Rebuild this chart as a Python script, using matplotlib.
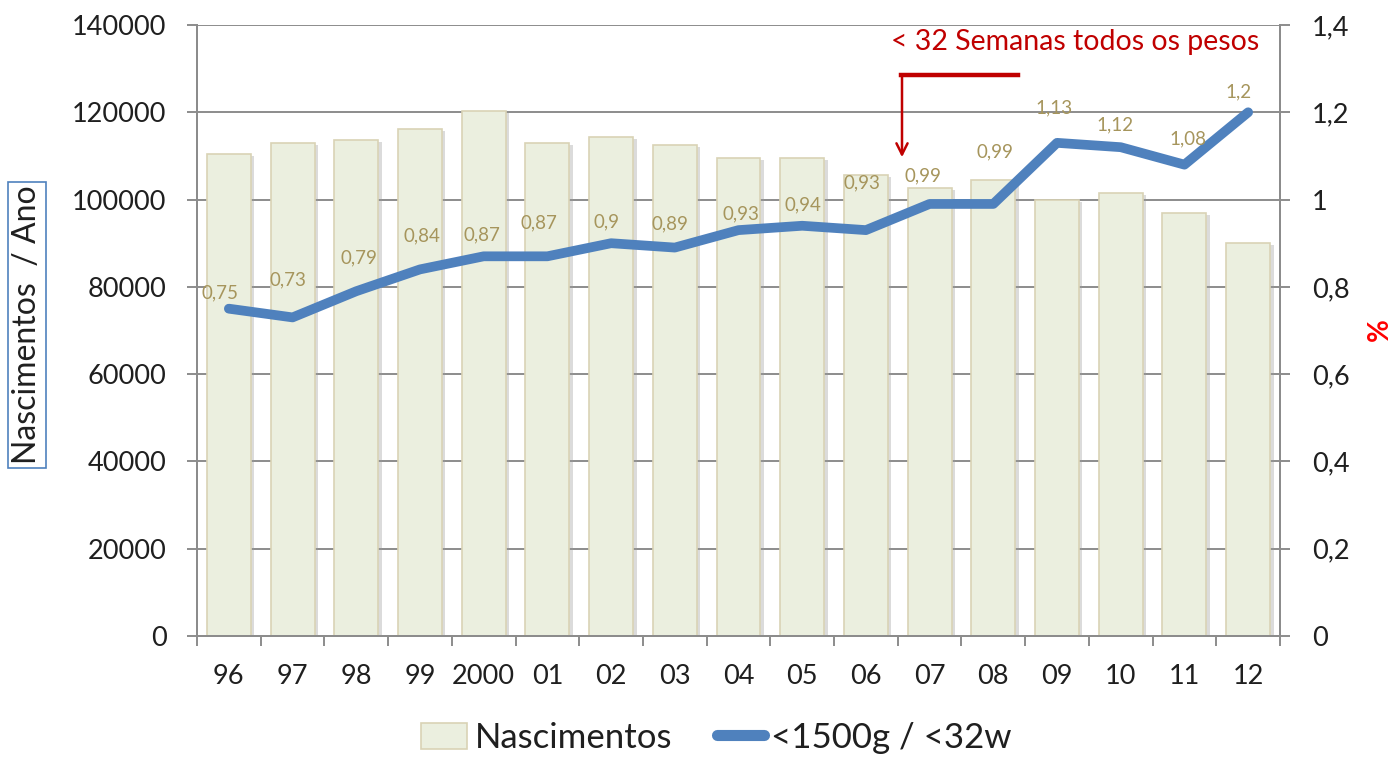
import matplotlib
matplotlib.use("Agg")
import matplotlib.pyplot as plt
import matplotlib.patheffects as pe
from matplotlib.patches import Patch
from matplotlib.lines import Line2D
import numpy as np

plt.rcParams['font.family'] = ['Lato', 'DejaVu Sans']

years = ["96", "97", "98", "99", "2000", "01", "02", "03", "04", "05", "06",
         "07", "08", "09", "10", "11", "12"]
nascimentos = [110500, 113000, 113700, 116200, 120200, 113000, 114300, 112500,
               109500, 109500, 105600, 102700, 104500, 99900, 101500, 96900, 90000]
pct_vlbw = [0.75, 0.73, 0.79, 0.84, 0.87, 0.87, 0.90, 0.89, 0.93, 0.94, 0.93,
            0.99, 0.99, 1.13, 1.12, 1.08, 1.20]
left_ticks = [0, 20000, 40000, 60000, 80000, 100000, 120000, 140000]
right_ticks = [0, 0.2, 0.4, 0.6, 0.8, 1.0, 1.2, 1.4]
right_tick_labels = ["0", "0,2", "0,4", "0,6", "0,8", "1", "1,2", "1,4"]
# label offsets in pixels (dx, dy) relative to each point
label_offsets = [(-9, 16), (-5, 38), (3, 33), (2, 34), (-2, 21), (-8, 33), (-5, 21),
                 (-5, 24), (2, 16), (1, 21), (-4, 47), (-7, 28), (2, 52), (-3, 35),
                 (-6, 22), (3, 26), (-10, 20)]

W, H = 1393, 757
fig = plt.figure(figsize=(W / 100, H / 100), dpi=100)
L, R, B, T = 197, 1280, 636, 25
ax = fig.add_axes([L / W, 1 - B / H, (R - L) / W, (B - T) / H])
ax2 = ax.twinx()

x = np.arange(len(years))
grid_c = '#8C8C8C'
txt_c = '#1F1F1F'
tick_fs = 19.5

bars = ax.bar(x, nascimentos, width=0.69, color='#EBEFDF', edgecolor='#D9D3B5',
              linewidth=1.2, zorder=2)
for b in bars:
    b.set_path_effects([pe.SimplePatchShadow(offset=(2.5, -1.5), shadow_rgbFace='#9A9A9A', alpha=0.35),
                        pe.Normal()])

ax.set_ylim(0, 140000)
ax.set_xlim(-0.5, len(years) - 0.5)
ax.set_yticks(left_ticks)
ax.set_yticklabels([str(t) for t in left_ticks])
ax.yaxis.grid(True, color=grid_c, linewidth=1.4, zorder=0)
ax.set_axisbelow(True)
ax.tick_params(axis='y', length=7, width=1.4, color=grid_c, pad=15, labelsize=tick_fs, labelcolor=txt_c)

ax.set_xticks(x)
ax.set_xticklabels(years)
ax.set_xticks(np.arange(-0.5, len(years), 1.0), minor=True)
ax.tick_params(axis='x', which='major', length=0, pad=20, labelsize=tick_fs, labelcolor=txt_c)
ax.tick_params(axis='x', which='minor', length=7, width=1.4, color=grid_c)

for sp in ['top']:
    ax.spines[sp].set_visible(False)
    ax2.spines[sp].set_visible(False)
for a in (ax, ax2):
    for sp in ['left', 'right', 'bottom']:
        a.spines[sp].set_color(grid_c)
        a.spines[sp].set_linewidth(1.4)

ax2.plot(x, pct_vlbw, color='#4F81BD', linewidth=7, solid_capstyle='round',
         solid_joinstyle='round', zorder=3)
ax2.set_ylim(0, 1.4)
ax2.set_yticks(right_ticks)
ax2.set_yticklabels(right_tick_labels)
ax2.tick_params(axis='y', length=7, width=1.4, color=grid_c, pad=16, labelsize=tick_fs, labelcolor=txt_c)

for xi, v, (dx, dy) in zip(x, pct_vlbw, label_offsets):
    ax2.annotate(f"{v:g}".replace('.', ','), (xi, v), xytext=(dx, dy),
                 textcoords='offset pixels', ha='center', va='center',
                 fontsize=13.5, color='#A6955C', zorder=4)

# y-axis label with box
fig.text(27 / W, 1 - 325 / H, "Nascimentos  / Ano", rotation=90, ha='center', va='center',
         fontsize=23, color=txt_c,
         bbox=dict(boxstyle='square,pad=0.12', facecolor='white', edgecolor='#4F81BD', linewidth=1.2))
# right label
fig.text(1380 / W, 1 - 330 / H, "%", rotation=90, ha='center', va='center',
         fontsize=20, color='#FF0000', fontweight='bold')

# annotation
red = '#C00000'
fig.text(1075 / W, 1 - 42 / H, "< 32 Semanas todos os pesos", ha='center', va='center',
         fontsize=20.5, color=red)
fig.add_artist(Line2D([901 / W, 1018 / W], [1 - 75 / H, 1 - 75 / H], color=red, linewidth=3.2,
                      transform=fig.transFigure))
ax.annotate("", xy=(902 / W, 1 - 160 / H), xytext=(902 / W, 1 - 74 / H),
            xycoords='figure fraction', textcoords='figure fraction',
            arrowprops=dict(arrowstyle='->,head_length=0.8,head_width=0.4', color=red, linewidth=1.8),
            zorder=5)

handles = [Patch(facecolor='#EBEFDF', edgecolor='#D9D3B5', linewidth=1.2),
           Line2D([0], [0], color='#4F81BD', linewidth=8, solid_capstyle='round')]
fig.legend(handles, ["Nascimentos", "<1500g / <32w"], loc='center', bbox_to_anchor=(716 / W, 1 - 738 / H),
           ncol=2, frameon=False, fontsize=25, handlelength=1.35, handleheight=0.8,
           handletextpad=0.2, columnspacing=1.3, labelcolor=txt_c)

fig.savefig("out.png", dpi=100)
